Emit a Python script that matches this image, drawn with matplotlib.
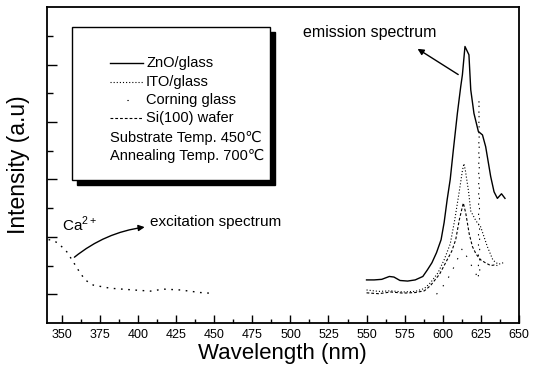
import matplotlib.pyplot as plt
from matplotlib.patches import Rectangle
from matplotlib.ticker import FixedLocator, MultipleLocator

plt.rcParams['font.family'] = ['Liberation Sans', 'DejaVu Sans']
plt.rcParams['mathtext.fontset'] = 'custom'
plt.rcParams['mathtext.rm'] = 'Liberation Sans'

# excitation spectrum (Ca2+ band)
exc_x = [341, 343.2, 347.4, 353, 356.4, 360.5, 365, 370.4, 381.6, 396.8, 408, 416.6, 427.6, 440.8, 449.4]
exc_y = [2.9, 2.89, 2.78, 2.48, 2.2, 1.85, 1.5, 1.32, 1.21, 1.15, 1.11, 1.18, 1.15, 1.06, 1.03]

# emission spectra
zno_x = [550, 555, 560, 565, 568, 572, 577, 582, 587, 590, 593, 596, 599, 601, 603, 605, 607,
         609.7, 611.9, 613, 614.7, 617.3, 618.5, 620.6, 623.5, 626.2, 628.3, 631.6, 633.8, 636, 638.7, 641]
zno_y = [1.5, 1.5, 1.52, 1.62, 1.6, 1.48, 1.46, 1.5, 1.62, 1.85, 2.1, 2.45, 2.9, 3.5, 4.3, 5.0, 6.0,
         7.3, 8.23, 8.64, 9.63, 9.34, 8.12, 7.3, 6.67, 6.55, 6.14, 5.1, 4.57, 4.34, 4.5, 4.34]

ito_x = [550, 558, 566, 574, 582, 588, 592, 597, 601, 605, 608, 611, 613, 614, 615, 617, 618.5,
         622, 625, 629.4, 633, 635, 637, 640]
ito_y = [1.15, 1.1, 1.12, 1.08, 1.1, 1.2, 1.4, 1.75, 2.2, 2.75, 3.6, 4.6, 5.3, 5.55, 5.3, 4.6, 3.9,
         3.55, 3.35, 2.66, 2.2, 2.1, 2.05, 2.1]

corning_x = [596, 602, 607, 613, 618, 622, 623.5, 623.9, 624.4, 626, 628]
corning_y = [1.0, 1.4, 1.9, 2.6, 2.1, 1.7, 1.5, 7.8, 1.8, 1.7, 1.6]

si_x = [550, 558, 566, 574, 582, 588, 592, 598, 602, 606, 608.6, 611, 613.6, 615.2, 617.5, 619.6,
        622, 625, 628, 631.6, 634, 636]
si_y = [1.05, 1.02, 1.08, 1.04, 1.06, 1.12, 1.3, 1.7, 2.1, 2.5, 2.9, 3.6, 4.18, 3.83, 3.1, 2.66,
        2.4, 2.2, 2.1, 2.0, 2.02, 2.0]

x_ticks = list(range(350, 651, 25))
y_major = [1, 3, 5, 7, 9]
y_minor = [2, 4, 6, 8, 10]

fig = plt.figure(figsize=(5.36, 3.76), dpi=100)
ax = fig.add_axes([0.0877, 0.141, 0.880, 0.840])

ax.plot(exc_x, exc_y, color='black', lw=1.0, linestyle=(0, (1.2, 4)))
ax.plot(zno_x, zno_y, color='black', lw=1.0, linestyle='-')
ax.plot(ito_x, ito_y, color='black', lw=0.8, linestyle=(0, (1, 1.8)))
ax.plot(corning_x, corning_y, color='black', lw=0.8, linestyle=(0, (1.2, 8)))
ax.plot(si_x, si_y, color='black', lw=0.8, linestyle=(0, (2.5, 1.8)))

ax.set_xlim(340, 650)
ax.set_ylim(0, 11)
ax.set_xticks(x_ticks)
ax.xaxis.set_minor_locator(MultipleLocator(12.5))
ax.yaxis.set_major_locator(FixedLocator(y_major))
ax.yaxis.set_minor_locator(FixedLocator(y_minor))
ax.set_yticklabels([])
ax.tick_params(which='both', direction='in', top=False, right=False, width=1.0)
ax.tick_params(which='major', length=6, labelsize=9, pad=4)
ax.tick_params(which='minor', length=3)
ax.tick_params(axis='y', which='major', length=7)
ax.tick_params(axis='y', which='minor', length=4)
for s in ax.spines.values():
    s.set_linewidth(1.3)

ax.set_xlabel('Wavelength (nm)', fontsize=16, labelpad=2)
ax.set_ylabel('Intensity (a.u)', fontsize=16.5, labelpad=8)

# annotations
ax.annotate('', xy=(582, 9.6), xytext=(611.8, 8.6),
            arrowprops=dict(arrowstyle='-|>', color='black', lw=1.0, mutation_scale=9))
ax.text(508, 10.1, 'emission spectrum', fontsize=11.5, va='center', ha='left')
ax.annotate('', xy=(406, 3.35), xytext=(356.6, 2.23),
            arrowprops=dict(arrowstyle='-|>', color='black', lw=1.0, mutation_scale=9,
                            connectionstyle='arc3,rad=-0.15'))
ax.text(408, 3.52, 'excitation spectrum', fontsize=11, va='center', ha='left')
ax.text(350, 3.45, r'Ca$^{\mathrm{2+}}$', fontsize=11, va='center', ha='left')

# legend box with drop shadow
ax.add_patch(Rectangle((0.063, 0.437), 0.42, 0.484, transform=ax.transAxes,
                       facecolor='black', edgecolor='black', zorder=5))
ax.add_patch(Rectangle((0.053, 0.453), 0.42, 0.484, transform=ax.transAxes,
                       facecolor='white', edgecolor='black', lw=1.0, zorder=6))

entries = [('ZnO/glass', '-', 1.0),
           ('ITO/glass', (0, (1, 1.8)), 0.8),
           ('Corning glass', (16, (1.2, 30)), 0.8),
           ('Si(100) wafer', (0, (2.5, 1.8)), 0.8)]
rows = [0.823, 0.763, 0.706, 0.649]
for (lab, ls, lw), yr in zip(entries, rows):
    ax.plot([0.1335, 0.203], [yr, yr], transform=ax.transAxes, color='black',
            linestyle=ls, lw=lw, zorder=7)
    ax.text(0.21, yr, lab, transform=ax.transAxes, fontsize=10.5, va='center', zorder=7)
ax.text(0.1335, 0.585, 'Substrate Temp. 450\u2103', transform=ax.transAxes,
        fontsize=10.5, va='center', zorder=7)
ax.text(0.1335, 0.528, 'Annealing Temp. 700\u2103', transform=ax.transAxes,
        fontsize=10.5, va='center', zorder=7)

fig.savefig('out.png', dpi=100)
